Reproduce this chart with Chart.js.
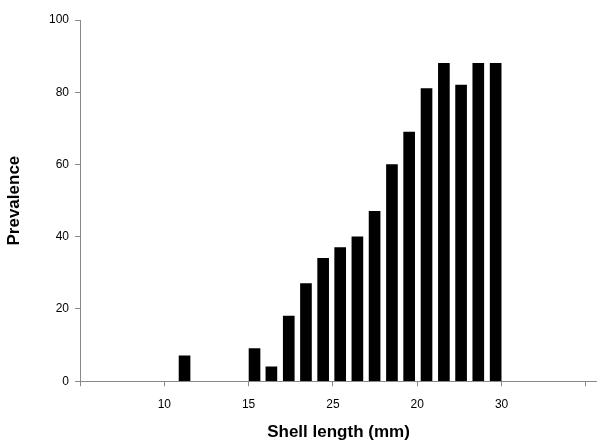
<!DOCTYPE html>
<html lang="en">
<head>
    <meta charset="UTF-8">
    <title>Prevalence by shell length</title>
    <script src="https://cdn.jsdelivr.net/npm/chart.js"></script>
    <style>
        body { margin: 0; background: white; }
    </style>
</head>
<body>
    <canvas id="chart" width="597" height="444"></canvas>
    <script>
        // bar positions along the x axis (axis units, tick every 5)
        const positions = [6.2, 10.35, 11.35, 12.38, 13.4, 14.42, 15.43, 16.45, 17.47, 18.5, 19.52, 20.55, 21.58, 22.6, 23.62, 24.65];
        const prevalence = [7, 9, 4, 18, 27, 34, 37, 40, 47, 60, 69, 81, 88, 82, 88, 88];
        // tick labels as printed on the original figure
        const tickValues = [0, 5, 10, 15, 20, 25, 30];
        const tickLabels = ["", "10", "15", "25", "20", "30", ""];

        const font = "Arial, 'Liberation Sans', sans-serif";
        const axisColor = "#888";

        new Chart(document.getElementById("chart"), {
            type: "bar",
            data: {
                datasets: [{
                    data: positions.map((x, i) => ({ x: x, y: prevalence[i] })),
                    backgroundColor: "#000",
                    barThickness: 11
                }]
            },
            options: {
                responsive: false,
                animation: false,
                layout: { padding: { top: 20, right: 0, left: 0, bottom: 1 } },
                plugins: { legend: { display: false }, tooltip: { enabled: false } },
                scales: {
                    x: {
                        type: "linear",
                        offset: false,
                        min: 0,
                        max: 30.66,
                        afterBuildTicks: axis => { axis.ticks = tickValues.map(v => ({ value: v })); },
                        ticks: {
                            callback: v => tickLabels[tickValues.indexOf(v)] ?? "",
                            color: "#000",
                            font: { family: font, size: 12 },
                            maxRotation: 0,
                            padding: 11
                        },
                        grid: { offset: false, drawOnChartArea: false, color: axisColor, tickLength: 5 },
                        border: { color: axisColor },
                        title: {
                            display: true,
                            text: "Shell length (mm)",
                            color: "#000",
                            font: { family: font, size: 17, weight: "bold" },
                            padding: { top: 0, bottom: 0 }
                        }
                    },
                    y: {
                        min: 0,
                        max: 100,
                        ticks: {
                            stepSize: 20,
                            color: "#000",
                            font: { family: font, size: 12 },
                            padding: 6
                        },
                        grid: { drawOnChartArea: false, color: axisColor, tickLength: 5 },
                        border: { color: axisColor },
                        title: {
                            display: true,
                            text: "Prevalence",
                            color: "#000",
                            font: { family: font, size: 17, weight: "bold" },
                            padding: { bottom: 10 }
                        },
                        afterFit: axis => { axis.width = 80; }
                    }
                }
            }
        });
    </script>
</body>
</html>
